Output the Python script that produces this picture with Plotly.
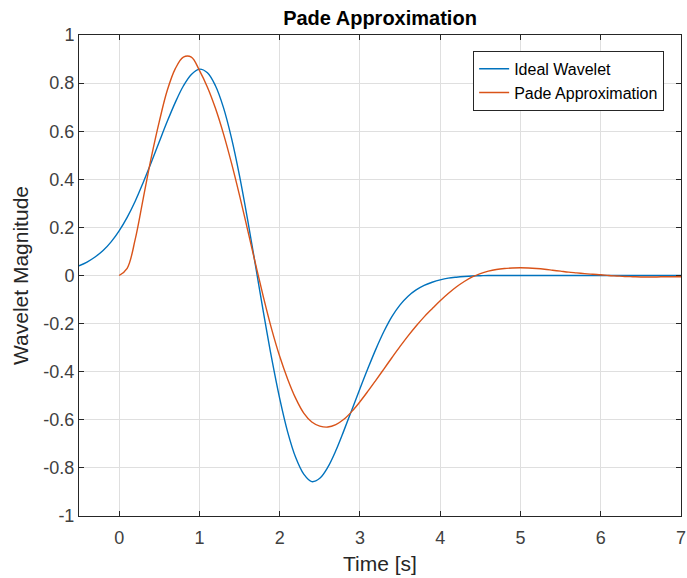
import plotly.graph_objects as go

# Time axis samples
t_ideal = [round(-0.5 + 0.1 * i, 1) for i in range(76)]
t_pade = [round(0.1 * i, 1) for i in range(71)]

ideal_wavelet = [
    0.040, 0.056, 0.077, 0.104, 0.140,
    0.186, 0.242, 0.309, 0.387, 0.470, 0.556, 0.641, 0.720, 0.788, 0.836,
    0.858, 0.843, 0.789, 0.698, 0.571, 0.414, 0.233, 0.039, -0.157, -0.344,
    -0.511, -0.651, -0.757, -0.826, -0.857, -0.843, -0.797, -0.728, -0.645, -0.558,
    -0.471, -0.386, -0.305, -0.232, -0.170, -0.122, -0.086, -0.060, -0.041, -0.028,
    -0.018, -0.011, -0.007, -0.004, -0.002, -0.001,
    0.0, 0.0, 0.0, 0.0, 0.0, 0.0, 0.0, 0.0, 0.0, 0.0,
    0.0, 0.0, 0.0, 0.0, 0.0, 0.0, 0.0, 0.0, 0.0, 0.0,
    0.0, 0.0, 0.0, 0.0, 0.0,
]

pade_approx = [
    0.000, 0.030, 0.150, 0.320, 0.490, 0.640, 0.770, 0.860, 0.908, 0.908,
    0.853, 0.783, 0.695, 0.589, 0.467, 0.333, 0.191, 0.047, -0.093, -0.223,
    -0.336, -0.431, -0.511, -0.572, -0.609, -0.626, -0.630, -0.620, -0.598, -0.565,
    -0.525, -0.481, -0.435, -0.388, -0.341, -0.295, -0.251, -0.210, -0.172, -0.138,
    -0.105, -0.075, -0.048, -0.025, -0.006, 0.008, 0.018, 0.025, 0.029, 0.031,
    0.032, 0.031, 0.029, 0.026, 0.022, 0.018, 0.014, 0.011, 0.008, 0.005,
    0.003, 0.000, -0.002, -0.004, -0.005, -0.006, -0.006, -0.006, -0.005, -0.005,
    -0.005,
]

x_ticks = [0, 1, 2, 3, 4, 5, 6, 7]
y_ticks = [-1, -0.8, -0.6, -0.4, -0.2, 0, 0.2, 0.4, 0.6, 0.8, 1]
y_tick_text = ["-1", "-0.8", "-0.6", "-0.4", "-0.2", "0", "0.2", "0.4", "0.6", "0.8", "1"]

fig = go.Figure()
fig.add_trace(go.Scatter(
    x=t_ideal, y=ideal_wavelet, mode="lines", name="Ideal Wavelet",
    line=dict(color="#0072BD", width=1.4, shape="spline", smoothing=1.0),
))
fig.add_trace(go.Scatter(
    x=t_pade, y=pade_approx, mode="lines", name="Pade Approximation",
    line=dict(color="#D95319", width=1.4, shape="spline", smoothing=1.0),
))

axis_col = "#262626"
grid_col = "#dfdfdf"
font_fam = "Liberation Sans, Arial, Helvetica, sans-serif"

fig.update_layout(
    width=687, height=578,
    margin=dict(l=79, r=1, t=35, b=62),
    paper_bgcolor="white", plot_bgcolor="white",
    font=dict(family=font_fam, size=18, color=axis_col),
    title=dict(text="<b>Pade Approximation</b>", x=0.5, xref="paper", xanchor="center",
               y=1 - 18 / 578, yref="container", yanchor="middle",
               font=dict(size=20, color="#000000")),
    showlegend=True,
    legend=dict(
        x=0.972, y=0.967, xanchor="right", yanchor="top",
        bgcolor="white", bordercolor=axis_col, borderwidth=1,
        font=dict(size=16, color="#000000"),
        tracegroupgap=0,
    ),
)

fig.update_xaxes(
    range=[-0.5, 7], tickvals=x_ticks,
    showgrid=True, gridcolor=grid_col, gridwidth=1, zeroline=False,
    showline=True, linecolor=axis_col, linewidth=1, mirror="ticks",
    ticks="inside", ticklen=5, tickcolor=axis_col, ticklabeloverflow="allow",
    ticklabelstandoff=5,
    tickfont=dict(size=18, color="#404040"),
    title=dict(text="Time [s]", font=dict(size=21, color="#262626"), standoff=9),
)
fig.update_yaxes(
    range=[-1, 1], tickvals=y_ticks, ticktext=y_tick_text,
    showgrid=True, gridcolor=grid_col, gridwidth=1, zeroline=False,
    showline=True, linecolor=axis_col, linewidth=1, mirror="ticks",
    ticks="inside", ticklen=5, tickcolor=axis_col,
    tickfont=dict(size=18, color="#404040"),
    title=dict(text="Wavelet Magnitude", font=dict(size=21, color="#262626"), standoff=9),
)

fig.write_html("out.html")
